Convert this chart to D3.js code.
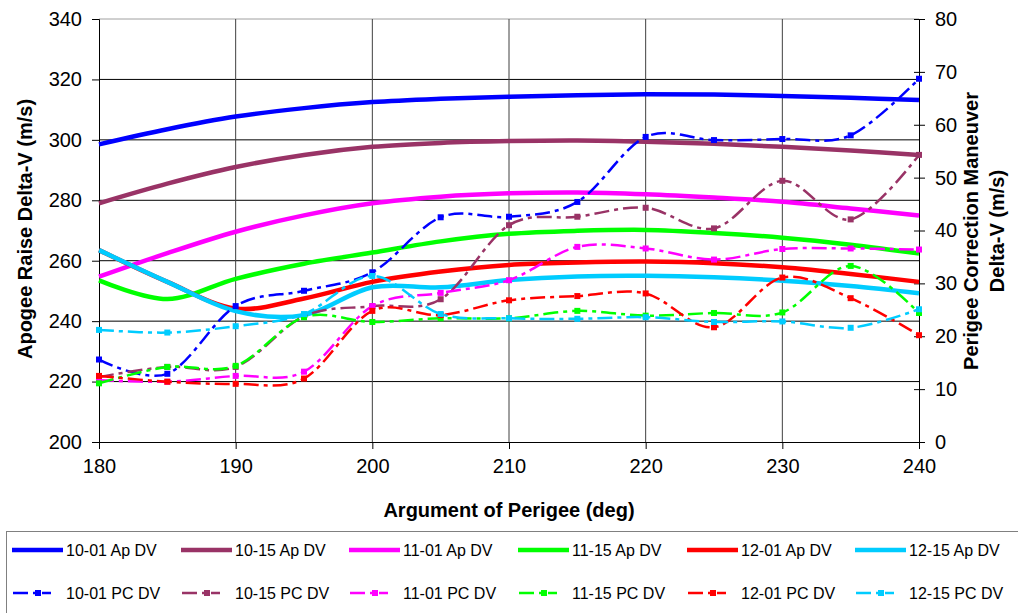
<!DOCTYPE html>
<html>
<head>
<meta charset="utf-8">
<script src="https://cdn.jsdelivr.net/npm/d3@7"></script>
<style>
  body { margin: 0; background: #fff; }
  text { font-family: "Liberation Sans", Arial, sans-serif; fill: #000; }
</style>
</head>
<body>
<div id="chart"></div>
<script>
var svgWidth = 1018;
var svgHeight = 613;

// plot area borders
var margin = { top: 19, right: 99, bottom: 171, left: 99 };
var width = svgWidth - margin.left - margin.right;
var height = svgHeight - margin.top - margin.bottom;

// data
var argPerigee = [180, 185, 190, 195, 200, 205, 210, 215, 220, 225, 230, 235, 240];

var ap1001 = [298.5, 303.5, 307.7, 310.5, 312.5, 313.6, 314.3, 314.8, 315.1, 315.0, 314.5, 313.9, 313.2];
var ap1015 = [279.0, 285.5, 291.0, 295.0, 297.7, 299.0, 299.6, 299.8, 299.4, 298.7, 297.7, 296.5, 295.0];
var ap1101 = [254.7, 262.5, 269.6, 275.0, 279.0, 281.2, 282.3, 282.6, 282.0, 280.9, 279.5, 277.3, 275.0];
var ap1115 = [253.5, 247.3, 254.0, 259.0, 262.7, 266.4, 268.9, 269.9, 270.2, 269.2, 267.6, 265.3, 262.4];
var ap1201 = [263.5, 253.0, 244.2, 247.5, 253.0, 256.4, 258.6, 259.4, 259.7, 259.2, 257.8, 255.6, 253.0];
var ap1215 = [263.5, 253.0, 243.3, 242.0, 251.2, 251.2, 253.6, 254.8, 255.0, 254.5, 253.4, 251.6, 249.2];

var pc1001 = [15.6, 12.9, 25.7, 28.6, 32.1, 42.5, 42.6, 45.4, 57.7, 57.1, 57.3, 58.0, 68.7];
var pc1015 = [12.3, 14.2, 14.2, 23.8, 25.7, 27.0, 41.0, 42.6, 44.3, 40.4, 49.4, 42.1, 54.3];
var pc1101 = [11.7, 11.4, 12.5, 13.3, 25.7, 28.2, 30.6, 36.9, 36.6, 34.5, 36.5, 36.6, 36.4];
var pc1115 = [11.1, 14.2, 14.4, 23.6, 22.7, 23.4, 23.4, 24.8, 23.9, 24.4, 24.5, 33.3, 24.4];
var pc1201 = [12.5, 11.4, 11.0, 12.0, 24.8, 24.0, 26.8, 27.6, 28.1, 21.7, 31.1, 27.2, 20.2];
var pc1215 = [21.2, 20.7, 21.9, 24.2, 31.4, 24.2, 23.4, 23.3, 23.6, 22.7, 22.8, 21.6, 25.1];

var seriesNames = ["10-01", "10-15", "11-01", "11-15", "12-01", "12-15"];
var seriesColors = ["#0000ff", "#993366", "#ff00ff", "#00ff00", "#ff0000", "#00ccff"];
var apSeries = [ap1001, ap1015, ap1101, ap1115, ap1201, ap1215];
var pcSeries = [pc1001, pc1015, pc1101, pc1115, pc1201, pc1215];

var xTicks = [180, 190, 200, 210, 220, 230, 240];
var leftTicks = [200, 220, 240, 260, 280, 300, 320, 340];
var rightTicks = [0, 10, 20, 30, 40, 50, 60, 70, 80];

var svg = d3.select("#chart")
    .append("svg")
    .attr("width", svgWidth)
    .attr("height", svgHeight);

const chartGroup = svg.append("g")
    .attr("transform", `translate(${margin.left}, ${margin.top})`);

var xScale = d3.scaleLinear().domain([180, 240]).range([0, width]);
var yLeft = d3.scaleLinear().domain([200, 340]).range([height, 0]);
var yRight = d3.scaleLinear().domain([0, 80]).range([height, 0]);

// gridlines
chartGroup.selectAll(".hgrid")
    .data(leftTicks.slice(1))
    .enter()
    .append("line")
    .attr("x1", 0).attr("x2", width)
    .attr("y1", d => yLeft(d)).attr("y2", d => yLeft(d))
    .attr("stroke", d => d === 340 ? "#a0a0a0" : "#000")
    .attr("stroke-width", 1);

chartGroup.selectAll(".vgrid")
    .data(xTicks.slice(1, -1))
    .enter()
    .append("line")
    .attr("y1", 0).attr("y2", height)
    .attr("x1", d => xScale(d)).attr("x2", d => xScale(d))
    .attr("stroke", "#404040")
    .attr("stroke-width", 1);

// axes
var bottomAxis = d3.axisBottom(xScale).tickValues(xTicks).tickSize(7).tickPadding(10);
var leftAxis = d3.axisLeft(yLeft).tickValues(leftTicks).tickSize(7).tickPadding(10);
var rightAxis = d3.axisRight(yRight).tickValues(rightTicks).tickSize(6).tickPadding(10);

var gx = chartGroup.append("g")
    .attr("transform", `translate(0, ${height})`)
    .call(bottomAxis);
var gl = chartGroup.append("g").call(leftAxis);
var gr = chartGroup.append("g")
    .attr("transform", `translate(${width}, 0)`)
    .call(rightAxis);

// right axis ticks cross the axis line
gr.selectAll(".tick line").attr("x1", -5);

[gx, gl, gr].forEach(g => {
    g.select(".domain").attr("stroke", "#000");
    g.selectAll(".tick line").attr("stroke", "#000");
    g.selectAll("text").attr("font-size", "20px").style("font-family", "'Liberation Sans', Arial, sans-serif");
});

// smoothed lines like the spreadsheet
var apLine = d3.line()
    .x((d, i) => xScale(argPerigee[i]))
    .y(d => yLeft(d))
    .curve(d3.curveCatmullRom.alpha(0));

var pcLine = d3.line()
    .x((d, i) => xScale(argPerigee[i]))
    .y(d => yRight(d))
    .curve(d3.curveCatmullRom.alpha(0));

apSeries.forEach((s, k) => {
    chartGroup.append("path")
        .datum(s)
        .attr("d", apLine)
        .attr("fill", "none")
        .attr("stroke", seriesColors[k])
        .attr("stroke-width", 4.5);
});

pcSeries.forEach((s, k) => {
    chartGroup.append("path")
        .datum(s)
        .attr("d", pcLine)
        .attr("fill", "none")
        .attr("stroke", seriesColors[k])
        .attr("stroke-width", 2.5)
        .attr("stroke-dasharray", "15,5,4,5");

    chartGroup.selectAll(".m" + k)
        .data(s)
        .enter()
        .append("rect")
        .attr("x", (d, i) => xScale(argPerigee[i]) - 3)
        .attr("y", d => yRight(d) - 3)
        .attr("width", 6)
        .attr("height", 6)
        .attr("fill", seriesColors[k]);
});

// axis titles
svg.append("text")
    .attr("x", margin.left + width / 2)
    .attr("y", 517)
    .attr("text-anchor", "middle")
    .attr("font-size", "20px")
    .attr("font-weight", "bold")
    .text("Argument of Perigee (deg)");

svg.append("text")
    .attr("transform", "translate(32, 229) rotate(-90)")
    .attr("text-anchor", "middle")
    .attr("font-size", "20px")
    .attr("font-weight", "bold")
    .text("Apogee Raise Delta-V (m/s)");

svg.append("text")
    .attr("transform", "translate(978, 231) rotate(-90)")
    .attr("text-anchor", "middle")
    .attr("font-size", "20px")
    .attr("font-weight", "bold")
    .text("Perigee Correction Maneuver");

svg.append("text")
    .attr("transform", "translate(1004, 231) rotate(-90)")
    .attr("text-anchor", "middle")
    .attr("font-size", "20px")
    .attr("font-weight", "bold")
    .text("Delta-V (m/s)");

// legend
var legend = svg.append("g");
legend.append("rect")
    .attr("x", 6.5).attr("y", 531.5)
    .attr("width", 1040).attr("height", 100)
    .attr("fill", "none")
    .attr("stroke", "#808080");

var legendX = [12, 181, 349, 518, 687, 855];

seriesNames.forEach((name, k) => {
    var x0 = legendX[k];
    legend.append("line")
        .attr("x1", x0).attr("x2", x0 + 51)
        .attr("y1", 550).attr("y2", 550)
        .attr("stroke", seriesColors[k])
        .attr("stroke-width", 4.5);
    legend.append("text")
        .attr("x", x0 + 54).attr("y", 556)
        .attr("font-size", "16px")
        .text(name + " Ap DV");

    legend.append("line")
        .attr("x1", x0 + 1).attr("x2", x0 + 39)
        .attr("y1", 593).attr("y2", 593)
        .attr("stroke", seriesColors[k])
        .attr("stroke-width", 2.5)
        .attr("stroke-dasharray", "15,5,4,5");
    legend.append("rect")
        .attr("x", x0 + 23).attr("y", 590)
        .attr("width", 6).attr("height", 6)
        .attr("fill", seriesColors[k]);
    legend.append("text")
        .attr("x", x0 + 54).attr("y", 599)
        .attr("font-size", "16px")
        .text(name + " PC DV");
});
</script>
</body>
</html>
